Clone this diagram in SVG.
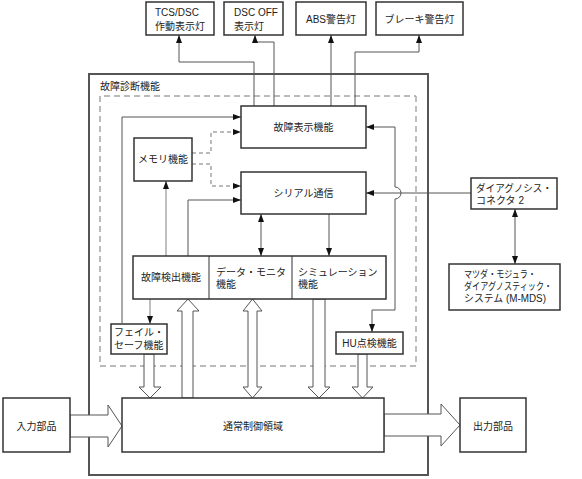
<svg xmlns="http://www.w3.org/2000/svg" width="582" height="479" viewBox="0 0 582 479">
<style>
text{font-family:"Liberation Sans","Noto Sans CJK JP",sans-serif;font-size:10px;fill:#222}
.c{text-anchor:middle}
.box{fill:#fff;stroke:#333;stroke-width:1.5}
.ln{fill:none;stroke:#555;stroke-width:1}
.lt{fill:none;stroke:#aaa;stroke-width:1.5}
.dash{fill:none;stroke:#777;stroke-width:1;stroke-dasharray:4,3}
.blk{fill:#fff;stroke:#555;stroke-width:1}
</style>
<defs>
<marker id="ah" markerUnits="userSpaceOnUse" markerWidth="8" markerHeight="6" refX="8" refY="3" orient="auto-start-reverse"><path d="M0,0 L8,3 L0,6 Z" fill="#111"/></marker>
</defs>
<rect id="outer" x="89" y="74" width="339" height="401" fill="none" stroke="#555" stroke-width="2"/>
<text x="100" y="90">故障診断機能</text>
<path id="dashed" d="M416,366 L100,366 L100,96 L416,96" fill="none" stroke="#777" stroke-width="1" stroke-dasharray="6,4"/>
<path d="M416,96 L416,366" fill="none" stroke="#aaa" stroke-width="1.5" stroke-dasharray="6,4"/>
<g id="connectors">
<path class="ln" d="M254,106 L254,62 L179,62 L179,35" marker-end="url(#ah)"/>
<path class="ln" d="M274,106 L274,42 L255,42 L255,35" marker-end="url(#ah)"/>
<path class="ln" d="M331,106 L331,35" marker-end="url(#ah)"/>
<path class="ln" d="M355,106 L355,52 L419,52 L419,35" marker-end="url(#ah)"/>
<path class="ln" d="M122,323 L122,117 L241,117" marker-end="url(#ah)"/>
<path class="dash" d="M192,153 L211,153 L211,132 L241,132" marker-end="url(#ah)"/>
<path class="dash" d="M192,164 L211,164 L211,186 L241,186" marker-end="url(#ah)"/>
<path class="ln" d="M188,256 L188,200 L241,200" marker-end="url(#ah)"/>
<path class="lt" d="M166,256 L166,181" marker-end="url(#ah)"/>
<path class="ln" d="M261,214 L261,256" marker-start="url(#ah)" marker-end="url(#ah)"/>
<path class="ln" d="M329,214 L329,256" marker-end="url(#ah)"/>
<path class="ln" d="M471,193 L366,193" marker-end="url(#ah)"/>
<path class="ln" d="M372,332 L372,310 L395,310 L395,199 A6,6 0 0 0 395,187 L395,127 L366,127" marker-start="url(#ah)" marker-end="url(#ah)"/>
<path class="ln" d="M515,209 L515,264" marker-start="url(#ah)" marker-end="url(#ah)"/>
<path class="lt" d="M150,299 L150,324" marker-end="url(#ah)"/>
<polygon class="blk" points="144,354 154,354 154,387 161,387 150,398 139,387 144,387"/>
<polygon class="blk" points="182,398 182,311 177,311 188,299 199,311 193,311 193,398"/>
<polygon class="blk" points="248,311 243,311 252.5,299 262,311 257,311 257,387 262,387 252.5,398 243,387 248,387"/>
<polygon class="blk" points="313,299 325,299 325,387 330,387 319,398 308,387 313,387"/>
<polygon class="blk" points="358,354 367,354 367,387 373,387 362.5,398 352,387 358,387"/>
<polygon class="blk" points="70,415 108,415 108,405 122,426 108,447 108,437 70,437"/>
<polygon class="blk" points="384,414 441,414 441,404 460,425 441,446 441,436 384,436"/>
</g>
<g id="tcs"><rect class="box" x="146" y="2" width="68" height="33"/><text x="155" y="16">TCS/DSC</text><text x="155" y="30">作動表示灯</text></g>
<g id="dscoff"><rect class="box" x="224" y="2" width="59" height="33"/><text x="234" y="16">DSC OFF</text><text x="234" y="30">表示灯</text></g>
<g id="abs"><rect class="box" x="296" y="2" width="70" height="33"/><text class="c" x="331" y="23">ABS警告灯</text></g>
<g id="brake"><rect class="box" x="376" y="2" width="87" height="33"/><text class="c" x="419.5" y="23">ブレーキ警告灯</text></g>
<g id="display"><rect class="box" x="241" y="106" width="125" height="42"/><text class="c" x="303.5" y="131">故障表示機能</text></g>
<g id="memory"><rect class="box" x="134" y="138" width="58" height="43"/><text class="c" x="163" y="163">メモリ機能</text></g>
<g id="serial"><rect class="box" x="241" y="172" width="125" height="42"/><text class="c" x="303.5" y="197">シリアル通信</text></g>
<g id="detect"><rect class="box" x="133" y="256" width="253" height="43"/><line x1="209" y1="256" x2="209" y2="299" stroke="#333"/><line x1="292" y1="256" x2="292" y2="299" stroke="#333"/>
<text class="c" x="171" y="281">故障検出機能</text>
<text x="216" y="276">データ・モニタ</text><text x="216" y="288">機能</text>
<text x="298" y="276">シミュレーション</text><text x="298" y="288">機能</text></g>
<g id="failsafe"><rect class="box" x="111" y="324" width="56" height="30"/><text x="114" y="336">フェイル・</text><text x="114" y="349">セーフ機能</text></g>
<g id="hu"><rect class="box" x="336" y="332" width="67" height="22"/><text class="c" x="369.5" y="347">HU点検機能</text></g>
<g id="connector"><rect class="box" x="471" y="178" width="86" height="31"/><text x="476" y="192" textLength="76" lengthAdjust="spacingAndGlyphs">ダイアグノシス・</text><text x="476" y="204">コネクタ 2</text></g>
<g id="mmds"><rect class="box" x="449" y="264" width="111" height="46"/><text x="464" y="278" textLength="72" lengthAdjust="spacingAndGlyphs">マツダ・モジュラ・</text><text x="464" y="290" textLength="88" lengthAdjust="spacingAndGlyphs">ダイアグノスティック・</text><text x="464" y="302" textLength="82" lengthAdjust="spacingAndGlyphs">システム (M-MDS)</text></g>
<g id="control"><rect class="box" x="122" y="398" width="262" height="54"/><text class="c" x="253" y="430">通常制御領域</text></g>
<g id="input"><rect class="box" x="3" y="398" width="67" height="54"/><text class="c" x="36.5" y="430">入力部品</text></g>
<g id="output"><rect class="box" x="460" y="398" width="66" height="54"/><text class="c" x="493" y="430">出力部品</text></g>
</svg>
